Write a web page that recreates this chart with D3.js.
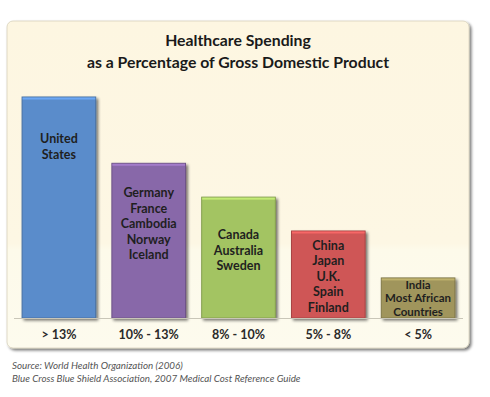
<!DOCTYPE html>
<html>
<head>
<meta charset="utf-8">
<script src="https://cdn.jsdelivr.net/npm/d3@7"></script>
<style>
  body { margin: 0; background: #fff; }
  svg { display: block; font-family: Lato, "Open Sans", sans-serif; }
</style>
</head>
<body>
<script>
/* chart data */
var categories = ["> 13%", "10% - 13%", "8% - 10%", "5% - 8%", "< 5%"]
var values = [16, 11.2, 8.75, 6.3, 2.9]
var countries = [
  ["United", "States"],
  ["Germany", "France", "Cambodia", "Norway", "Iceland"],
  ["Canada", "Australia", "Sweden"],
  ["China", "Japan", "U.K.", "Spain", "Finland"],
  ["India", "Most African", "Countries"]
]
var titleLines = ["Healthcare Spending", "as a Percentage of Gross Domestic Product"]
var sourceLines = ["Source: World Health Organization (2006)",
  "Blue Cross Blue Shield Association, 2007 Medical Cost Reference Guide"]

/* layout */
var colors = ["#5a8ccb", "#8868a9", "#a3c462", "#cf5656", "#a0955b"]
var labelDy = [42, 30, 38, 15, 7]   // first label line below bar top
var labelSize = [12.5, 12.5, 12.5, 12.5, 11.5]
var lineGap = [15.5, 15.5, 15.5, 15.5, 13.5]

var svg = d3.select("body").append("svg")
  .attr("width", 490)
  .attr("height", 397)

var defs = svg.append("defs")

var bg = defs.append("linearGradient").attr("id", "bg")
  .attr("x1", 0).attr("y1", 0).attr("x2", 0).attr("y2", 1)
bg.append("stop").attr("offset", "0%").attr("stop-color", "#fdf6e1")
bg.append("stop").attr("offset", "68%").attr("stop-color", "#fdf7e4")
bg.append("stop").attr("offset", "70%").attr("stop-color", "#fdfaea")
bg.append("stop").attr("offset", "100%").attr("stop-color", "#fdfbee")

var shadow = defs.append("filter").attr("id", "shadow")
  .attr("x", "-5%").attr("y", "-5%").attr("width", "112%").attr("height", "115%")
shadow.append("feGaussianBlur").attr("in", "SourceAlpha").attr("stdDeviation", 1.6)
shadow.append("feOffset").attr("dx", 2).attr("dy", 2).attr("result", "b")
shadow.append("feComponentTransfer").append("feFuncA").attr("type", "linear").attr("slope", 0.55)
var merge = shadow.append("feMerge")
merge.append("feMergeNode")
merge.append("feMergeNode").attr("in", "SourceGraphic")

/* panel */
svg.append("rect")
  .attr("x", 7).attr("y", 21)
  .attr("width", 462).attr("height", 327)
  .attr("rx", 6)
  .attr("fill", "url(#bg)")
  .attr("stroke", "#d8d2bd")
  .attr("stroke-width", 0.8)
  .attr("filter", "url(#shadow)")

/* title */
svg.append("g").selectAll("text")
  .data(titleLines)
  .enter().append("text")
  .attr("x", 238)
  .attr("y", function(d, i) { return 46 + i * 22 })
  .attr("text-anchor", "middle")
  .attr("font-size", "15.8px")
  .attr("font-weight", "bold")
  .attr("fill", "#1a1a1a")
  .text(function(d) { return d })

/* scales */
var x = d3.scaleBand()
  .domain(categories)
  .range([14, 463])
  .paddingInner(0.18)
  .paddingOuter(0.09)

var y = d3.scaleLinear()
  .domain([0, 16])
  .range([318, 97])

/* bars */
var bar = svg.append("g").selectAll("g")
  .data(categories)
  .enter().append("g")

bar.append("rect")
  .attr("x", function(d) { return x(d) })
  .attr("y", function(d, i) { return y(values[i]) })
  .attr("width", x.bandwidth())
  .attr("height", function(d, i) { return y(0) - y(values[i]) })
  .attr("fill", function(d, i) { return colors[i] })
  .attr("stroke", function(d, i) { return d3.color(colors[i]).darker(0.6) })
  .attr("stroke-width", 1)
  .attr("filter", "url(#shadow)")

// light top edge
bar.append("rect")
  .attr("x", function(d) { return x(d) + 0.5 })
  .attr("y", function(d, i) { return y(values[i]) + 0.5 })
  .attr("width", x.bandwidth() - 1)
  .attr("height", 2)
  .attr("fill", function(d, i) { return d3.color(colors[i]).brighter(0.5) })

bar.each(function(d, i) {
  d3.select(this).append("g").selectAll("text")
    .data(countries[i])
    .enter().append("text")
    .attr("x", x(d) + x.bandwidth() / 2)
    .attr("y", function(t, j) { return y(values[i]) + labelDy[i] + j * lineGap[i] + 4 })
    .attr("text-anchor", "middle")
    .attr("font-size", labelSize[i] + "px")
    .attr("font-weight", "bold")
    .attr("fill", "#1f1f1f")
    .text(function(t) { return t })
})

/* axis */
var axis = svg.append("g")
  .attr("transform", "translate(0," + y(0) + ")")
  .call(d3.axisBottom(x).tickSize(0).tickPadding(12))

axis.select(".domain")
  .attr("d", "M14,0.5H463")
  .attr("stroke", "#c9c6b8")

axis.selectAll("text")
  .attr("font-family", "Lato, sans-serif")
  .attr("font-size", "12.5px")
  .attr("font-weight", "bold")
  .attr("fill", "#2a2a2a")

/* source */
svg.append("g").selectAll("text")
  .data(sourceLines)
  .enter().append("text")
  .attr("x", 12)
  .attr("y", function(d, i) { return 369 + i * 13 })
  .attr("font-size", "9.8px")
  .attr("font-style", "italic")
  .attr("fill", "#555")
  .text(function(d) { return d })
</script>
</body>
</html>
